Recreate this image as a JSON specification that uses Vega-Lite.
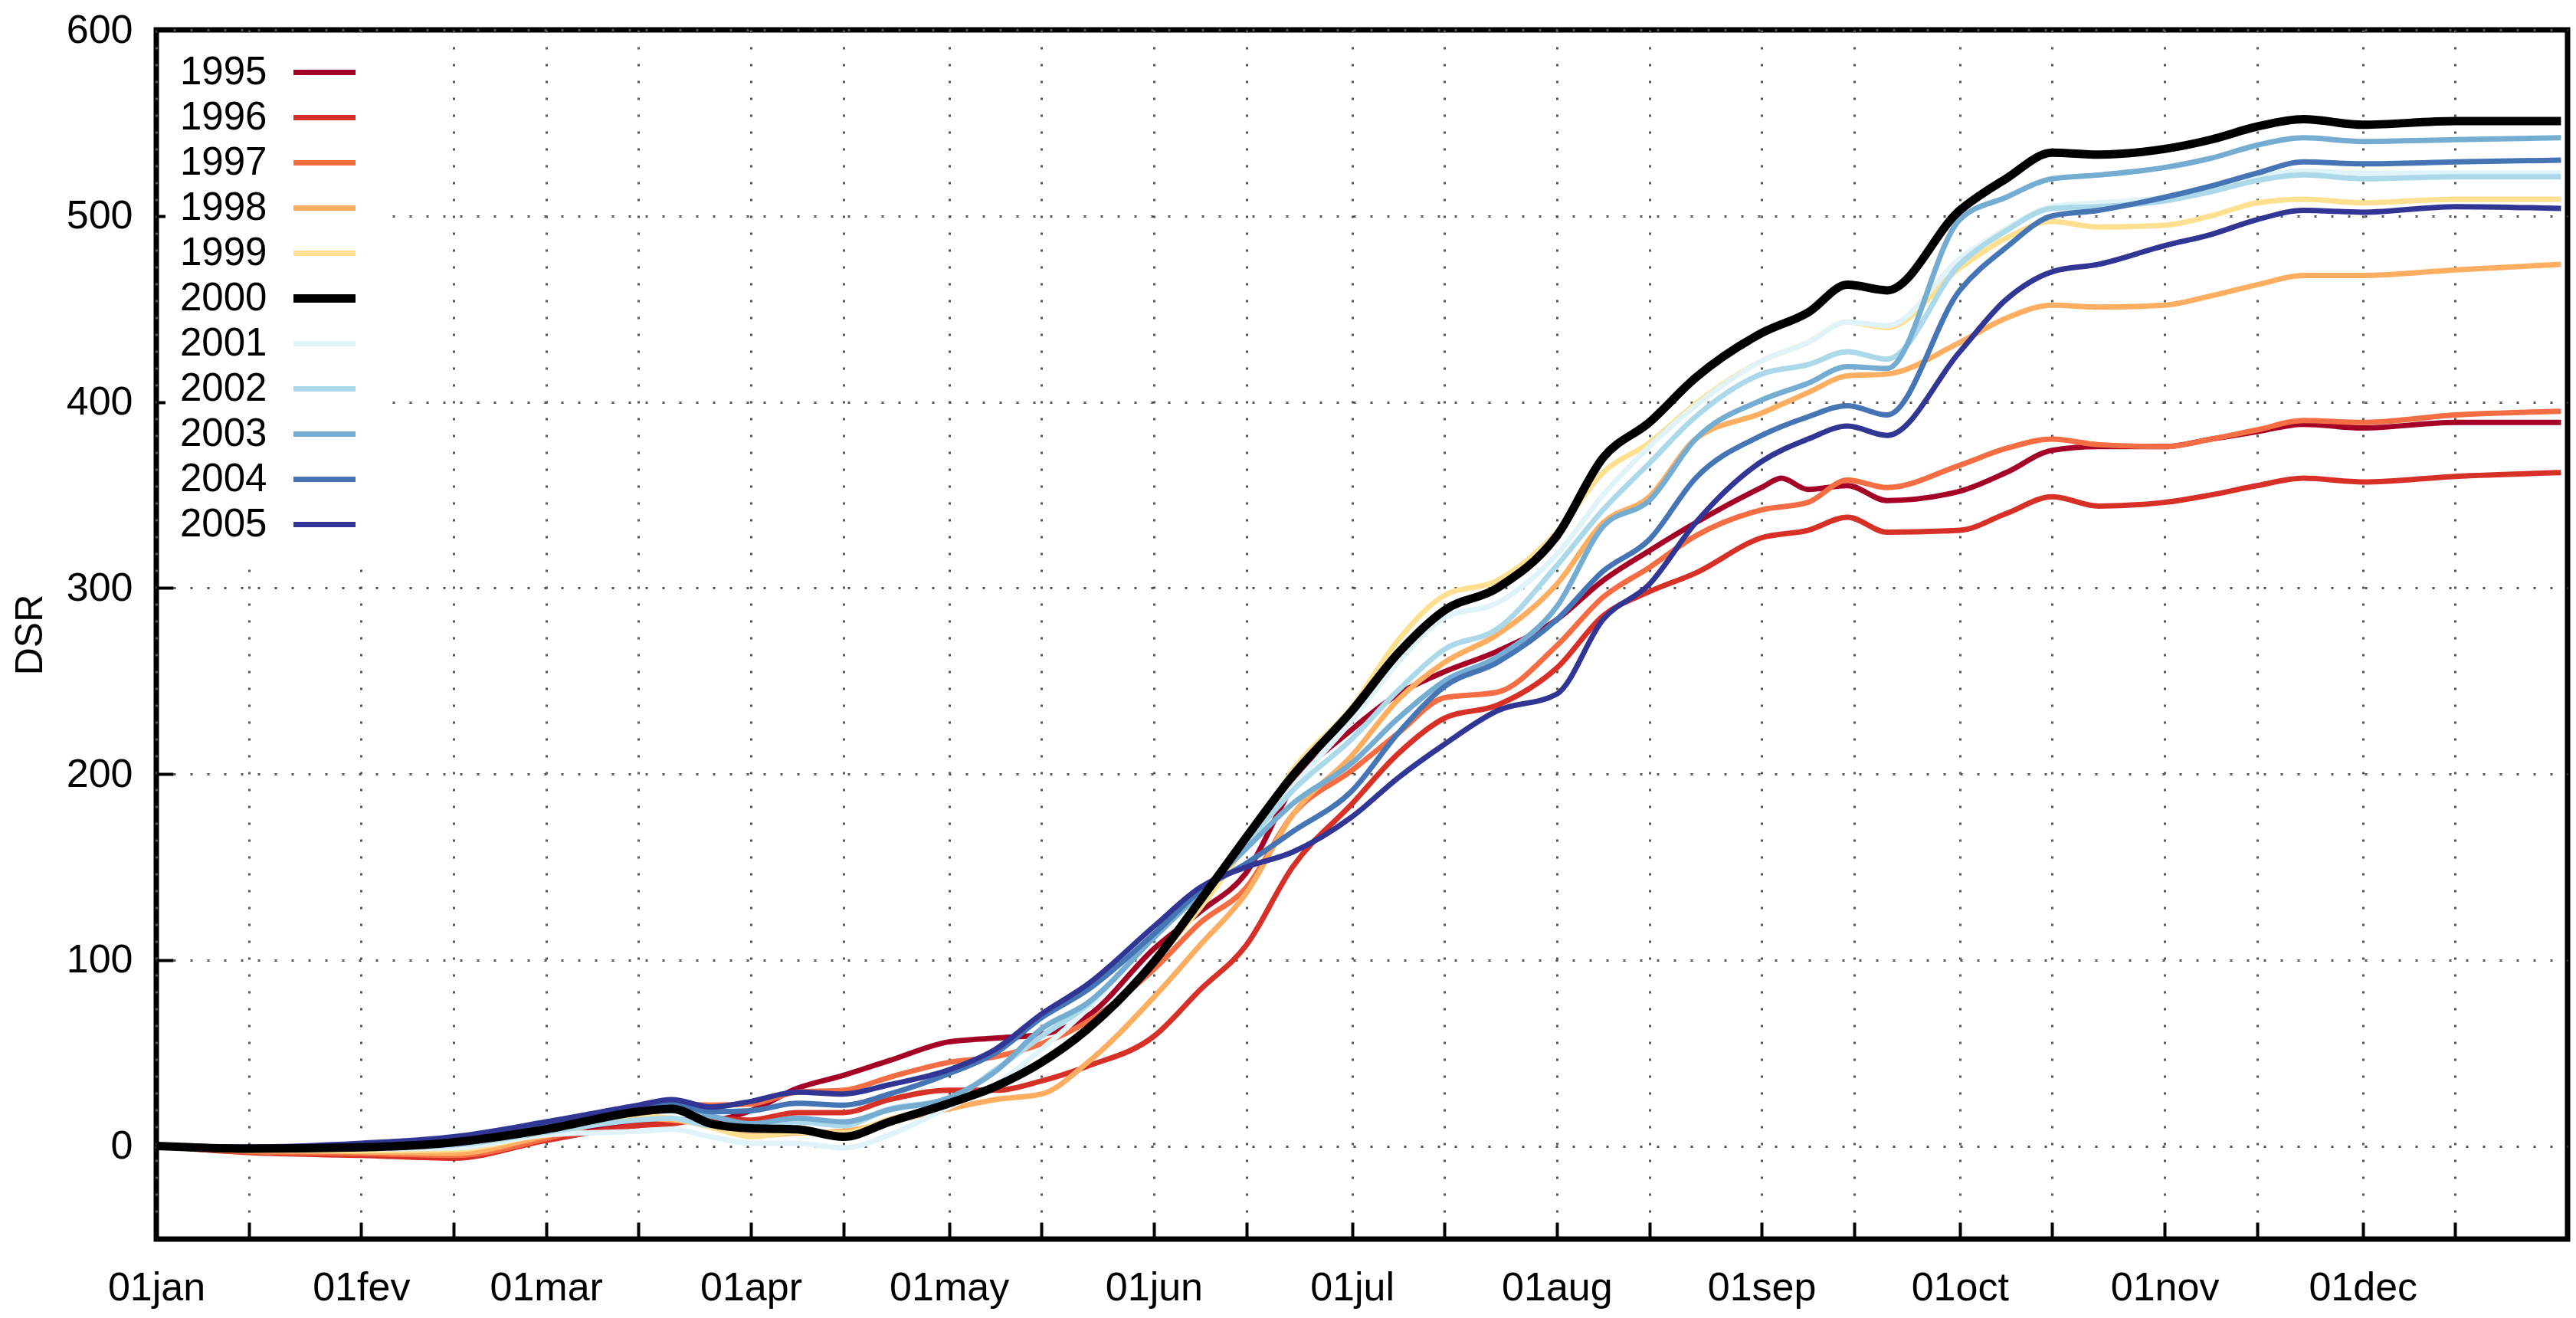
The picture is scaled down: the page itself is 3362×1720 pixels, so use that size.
{
"$schema": "https://vega.github.io/schema/vega-lite/v6.json",
"width": 3147, "height": 1578,
"autosize": {"type": "none"},
"padding": {"left": 204, "top": 39, "right": 11, "bottom": 103},
"background": "white",
"config": {
  "view": {"stroke": "black", "strokeWidth": 7},
  "font": "Liberation Sans",
  "axis": {"domain": false, "grid": true, "gridColor": "#555555", "gridDash": [3, 19], "gridWidth": 3, "tickColor": "black", "tickWidth": 4, "tickSize": -22, "labelFont": "Liberation Sans", "labelFontSize": 52, "labelColor": "black", "titleFont": "Liberation Sans", "titleFontSize": 50, "titleFontWeight": "normal", "titleColor": "black"}
},
"datasets": {
"d": [
{"date":"2001-01-01","year":"1995","dsr":0},{"date":"2001-01-15","year":"1995","dsr":-3},{"date":"2001-02-01","year":"1995","dsr":-4},{"date":"2001-02-15","year":"1995","dsr":-5.5},{"date":"2001-03-01","year":"1995","dsr":4},{"date":"2001-03-15","year":"1995","dsr":13},{"date":"2001-03-20","year":"1995","dsr":14},{"date":"2001-03-26","year":"1995","dsr":14},{"date":"2001-04-01","year":"1995","dsr":19},{"date":"2001-04-08","year":"1995","dsr":31},{"date":"2001-04-15","year":"1995","dsr":38},{"date":"2001-04-22","year":"1995","dsr":46},{"date":"2001-05-01","year":"1995","dsr":56},{"date":"2001-05-08","year":"1995","dsr":58},{"date":"2001-05-15","year":"1995","dsr":60},{"date":"2001-05-22","year":"1995","dsr":70},{"date":"2001-06-01","year":"1995","dsr":106},{"date":"2001-06-08","year":"1995","dsr":126},{"date":"2001-06-15","year":"1995","dsr":147},{"date":"2001-06-22","year":"1995","dsr":193},{"date":"2001-07-01","year":"1995","dsr":224},{"date":"2001-07-08","year":"1995","dsr":243},{"date":"2001-07-15","year":"1995","dsr":255},{"date":"2001-07-23","year":"1995","dsr":266},{"date":"2001-08-01","year":"1995","dsr":283},{"date":"2001-08-08","year":"1995","dsr":304},{"date":"2001-08-15","year":"1995","dsr":320},{"date":"2001-08-22","year":"1995","dsr":335},{"date":"2001-09-01","year":"1995","dsr":354},{"date":"2001-09-04","year":"1995","dsr":359},{"date":"2001-09-08","year":"1995","dsr":353},{"date":"2001-09-14","year":"1995","dsr":355},{"date":"2001-09-20","year":"1995","dsr":347},{"date":"2001-10-01","year":"1995","dsr":352},{"date":"2001-10-08","year":"1995","dsr":362},{"date":"2001-10-15","year":"1995","dsr":374},{"date":"2001-10-22","year":"1995","dsr":376},{"date":"2001-11-01","year":"1995","dsr":376},{"date":"2001-11-08","year":"1995","dsr":380},{"date":"2001-11-15","year":"1995","dsr":384},{"date":"2001-11-22","year":"1995","dsr":388},{"date":"2001-12-01","year":"1995","dsr":386},{"date":"2001-12-15","year":"1995","dsr":389},{"date":"2001-12-31","year":"1995","dsr":389},
{"date":"2001-01-01","year":"1996","dsr":0},{"date":"2001-01-15","year":"1996","dsr":-3.5},{"date":"2001-02-01","year":"1996","dsr":-5},{"date":"2001-02-15","year":"1996","dsr":-6.5},{"date":"2001-03-01","year":"1996","dsr":3},{"date":"2001-03-15","year":"1996","dsr":11},{"date":"2001-03-20","year":"1996","dsr":12},{"date":"2001-03-26","year":"1996","dsr":15},{"date":"2001-04-01","year":"1996","dsr":14},{"date":"2001-04-08","year":"1996","dsr":18},{"date":"2001-04-15","year":"1996","dsr":18},{"date":"2001-04-22","year":"1996","dsr":25},{"date":"2001-05-01","year":"1996","dsr":30},{"date":"2001-05-08","year":"1996","dsr":30},{"date":"2001-05-15","year":"1996","dsr":35},{"date":"2001-05-22","year":"1996","dsr":43},{"date":"2001-06-01","year":"1996","dsr":59},{"date":"2001-06-08","year":"1996","dsr":84},{"date":"2001-06-15","year":"1996","dsr":108},{"date":"2001-06-22","year":"1996","dsr":150},{"date":"2001-07-01","year":"1996","dsr":184},{"date":"2001-07-08","year":"1996","dsr":211},{"date":"2001-07-15","year":"1996","dsr":230},{"date":"2001-07-23","year":"1996","dsr":237},{"date":"2001-08-01","year":"1996","dsr":257},{"date":"2001-08-08","year":"1996","dsr":285},{"date":"2001-08-15","year":"1996","dsr":298},{"date":"2001-08-22","year":"1996","dsr":308},{"date":"2001-09-01","year":"1996","dsr":327},{"date":"2001-09-08","year":"1996","dsr":331},{"date":"2001-09-14","year":"1996","dsr":338},{"date":"2001-09-20","year":"1996","dsr":330},{"date":"2001-10-01","year":"1996","dsr":331},{"date":"2001-10-08","year":"1996","dsr":340},{"date":"2001-10-15","year":"1996","dsr":349},{"date":"2001-10-22","year":"1996","dsr":344},{"date":"2001-11-01","year":"1996","dsr":346},{"date":"2001-11-08","year":"1996","dsr":350},{"date":"2001-11-15","year":"1996","dsr":355},{"date":"2001-11-22","year":"1996","dsr":359},{"date":"2001-12-01","year":"1996","dsr":357},{"date":"2001-12-15","year":"1996","dsr":360},{"date":"2001-12-31","year":"1996","dsr":362},
{"date":"2001-01-01","year":"1997","dsr":0},{"date":"2001-01-15","year":"1997","dsr":-3},{"date":"2001-02-01","year":"1997","dsr":-4},{"date":"2001-02-15","year":"1997","dsr":-5},{"date":"2001-03-01","year":"1997","dsr":4},{"date":"2001-03-15","year":"1997","dsr":19},{"date":"2001-03-20","year":"1997","dsr":22.5},{"date":"2001-03-26","year":"1997","dsr":22},{"date":"2001-04-01","year":"1997","dsr":22.6},{"date":"2001-04-08","year":"1997","dsr":29},{"date":"2001-04-15","year":"1997","dsr":30},{"date":"2001-04-22","year":"1997","dsr":37},{"date":"2001-05-01","year":"1997","dsr":45},{"date":"2001-05-08","year":"1997","dsr":48},{"date":"2001-05-15","year":"1997","dsr":55},{"date":"2001-05-22","year":"1997","dsr":67},{"date":"2001-06-01","year":"1997","dsr":95},{"date":"2001-06-08","year":"1997","dsr":120},{"date":"2001-06-15","year":"1997","dsr":139},{"date":"2001-06-22","year":"1997","dsr":178},{"date":"2001-07-01","year":"1997","dsr":202},{"date":"2001-07-08","year":"1997","dsr":222},{"date":"2001-07-15","year":"1997","dsr":241},{"date":"2001-07-23","year":"1997","dsr":244},{"date":"2001-08-01","year":"1997","dsr":269},{"date":"2001-08-08","year":"1997","dsr":295},{"date":"2001-08-15","year":"1997","dsr":311},{"date":"2001-08-22","year":"1997","dsr":328},{"date":"2001-09-01","year":"1997","dsr":342},{"date":"2001-09-08","year":"1997","dsr":346},{"date":"2001-09-14","year":"1997","dsr":358},{"date":"2001-09-20","year":"1997","dsr":354},{"date":"2001-10-01","year":"1997","dsr":366},{"date":"2001-10-08","year":"1997","dsr":375},{"date":"2001-10-15","year":"1997","dsr":380},{"date":"2001-10-22","year":"1997","dsr":377},{"date":"2001-11-01","year":"1997","dsr":376},{"date":"2001-11-08","year":"1997","dsr":380},{"date":"2001-11-15","year":"1997","dsr":385},{"date":"2001-11-22","year":"1997","dsr":390},{"date":"2001-12-01","year":"1997","dsr":389},{"date":"2001-12-15","year":"1997","dsr":393},{"date":"2001-12-31","year":"1997","dsr":395},
{"date":"2001-01-01","year":"1998","dsr":0},{"date":"2001-01-15","year":"1998","dsr":-2.5},{"date":"2001-02-01","year":"1998","dsr":-3},{"date":"2001-02-15","year":"1998","dsr":-4},{"date":"2001-03-01","year":"1998","dsr":5.5},{"date":"2001-03-15","year":"1998","dsr":15},{"date":"2001-03-20","year":"1998","dsr":14},{"date":"2001-03-26","year":"1998","dsr":11},{"date":"2001-04-01","year":"1998","dsr":5.5},{"date":"2001-04-08","year":"1998","dsr":7},{"date":"2001-04-15","year":"1998","dsr":8},{"date":"2001-04-22","year":"1998","dsr":13},{"date":"2001-05-01","year":"1998","dsr":20},{"date":"2001-05-08","year":"1998","dsr":25},{"date":"2001-05-15","year":"1998","dsr":28},{"date":"2001-05-22","year":"1998","dsr":45},{"date":"2001-06-01","year":"1998","dsr":80},{"date":"2001-06-08","year":"1998","dsr":108},{"date":"2001-06-15","year":"1998","dsr":136},{"date":"2001-06-22","year":"1998","dsr":178},{"date":"2001-07-01","year":"1998","dsr":210},{"date":"2001-07-08","year":"1998","dsr":240},{"date":"2001-07-15","year":"1998","dsr":260},{"date":"2001-07-23","year":"1998","dsr":275},{"date":"2001-08-01","year":"1998","dsr":302},{"date":"2001-08-08","year":"1998","dsr":335},{"date":"2001-08-15","year":"1998","dsr":349},{"date":"2001-08-22","year":"1998","dsr":380},{"date":"2001-09-01","year":"1998","dsr":394},{"date":"2001-09-08","year":"1998","dsr":405},{"date":"2001-09-14","year":"1998","dsr":414},{"date":"2001-09-20","year":"1998","dsr":415},{"date":"2001-10-01","year":"1998","dsr":432},{"date":"2001-10-08","year":"1998","dsr":445},{"date":"2001-10-15","year":"1998","dsr":452},{"date":"2001-10-22","year":"1998","dsr":451},{"date":"2001-11-01","year":"1998","dsr":452},{"date":"2001-11-08","year":"1998","dsr":457},{"date":"2001-11-15","year":"1998","dsr":463},{"date":"2001-11-22","year":"1998","dsr":468},{"date":"2001-12-01","year":"1998","dsr":468},{"date":"2001-12-15","year":"1998","dsr":471},{"date":"2001-12-31","year":"1998","dsr":474},
{"date":"2001-01-01","year":"1999","dsr":0},{"date":"2001-01-15","year":"1999","dsr":-2},{"date":"2001-02-01","year":"1999","dsr":-2.5},{"date":"2001-02-15","year":"1999","dsr":-2},{"date":"2001-03-01","year":"1999","dsr":7},{"date":"2001-03-15","year":"1999","dsr":16},{"date":"2001-03-20","year":"1999","dsr":15},{"date":"2001-03-26","year":"1999","dsr":10},{"date":"2001-04-01","year":"1999","dsr":5},{"date":"2001-04-08","year":"1999","dsr":7.5},{"date":"2001-04-15","year":"1999","dsr":7},{"date":"2001-04-22","year":"1999","dsr":14.5},{"date":"2001-05-01","year":"1999","dsr":23},{"date":"2001-05-08","year":"1999","dsr":32},{"date":"2001-05-15","year":"1999","dsr":45},{"date":"2001-05-22","year":"1999","dsr":62},{"date":"2001-06-01","year":"1999","dsr":99},{"date":"2001-06-08","year":"1999","dsr":128},{"date":"2001-06-15","year":"1999","dsr":162},{"date":"2001-06-22","year":"1999","dsr":202},{"date":"2001-07-01","year":"1999","dsr":236},{"date":"2001-07-08","year":"1999","dsr":272},{"date":"2001-07-15","year":"1999","dsr":296},{"date":"2001-07-23","year":"1999","dsr":304},{"date":"2001-08-01","year":"1999","dsr":330},{"date":"2001-08-08","year":"1999","dsr":362},{"date":"2001-08-15","year":"1999","dsr":378},{"date":"2001-08-22","year":"1999","dsr":399},{"date":"2001-09-01","year":"1999","dsr":422},{"date":"2001-09-08","year":"1999","dsr":432},{"date":"2001-09-14","year":"1999","dsr":443},{"date":"2001-09-20","year":"1999","dsr":440},{"date":"2001-10-01","year":"1999","dsr":472},{"date":"2001-10-08","year":"1999","dsr":488},{"date":"2001-10-15","year":"1999","dsr":497},{"date":"2001-10-22","year":"1999","dsr":494},{"date":"2001-11-01","year":"1999","dsr":495},{"date":"2001-11-08","year":"1999","dsr":500},{"date":"2001-11-15","year":"1999","dsr":507},{"date":"2001-11-22","year":"1999","dsr":509},{"date":"2001-12-01","year":"1999","dsr":507},{"date":"2001-12-15","year":"1999","dsr":509},{"date":"2001-12-31","year":"1999","dsr":509},
{"date":"2001-01-01","year":"2000","dsr":0},{"date":"2001-01-15","year":"2000","dsr":-1.4},{"date":"2001-02-01","year":"2000","dsr":-0.7},{"date":"2001-02-15","year":"2000","dsr":2},{"date":"2001-03-01","year":"2000","dsr":9},{"date":"2001-03-15","year":"2000","dsr":18.5},{"date":"2001-03-20","year":"2000","dsr":20},{"date":"2001-03-26","year":"2000","dsr":12},{"date":"2001-04-01","year":"2000","dsr":9.5},{"date":"2001-04-08","year":"2000","dsr":9},{"date":"2001-04-15","year":"2000","dsr":5},{"date":"2001-04-22","year":"2000","dsr":13},{"date":"2001-05-01","year":"2000","dsr":23},{"date":"2001-05-08","year":"2000","dsr":32},{"date":"2001-05-15","year":"2000","dsr":45},{"date":"2001-05-22","year":"2000","dsr":63},{"date":"2001-06-01","year":"2000","dsr":99},{"date":"2001-06-08","year":"2000","dsr":132},{"date":"2001-06-15","year":"2000","dsr":166},{"date":"2001-06-22","year":"2000","dsr":199},{"date":"2001-07-01","year":"2000","dsr":234},{"date":"2001-07-08","year":"2000","dsr":265},{"date":"2001-07-15","year":"2000","dsr":288},{"date":"2001-07-23","year":"2000","dsr":300},{"date":"2001-08-01","year":"2000","dsr":328},{"date":"2001-08-08","year":"2000","dsr":370},{"date":"2001-08-15","year":"2000","dsr":389},{"date":"2001-08-22","year":"2000","dsr":413},{"date":"2001-09-01","year":"2000","dsr":437},{"date":"2001-09-08","year":"2000","dsr":448},{"date":"2001-09-14","year":"2000","dsr":463},{"date":"2001-09-20","year":"2000","dsr":460},{"date":"2001-10-01","year":"2000","dsr":503},{"date":"2001-10-08","year":"2000","dsr":520},{"date":"2001-10-15","year":"2000","dsr":534},{"date":"2001-10-22","year":"2000","dsr":533},{"date":"2001-11-01","year":"2000","dsr":536},{"date":"2001-11-08","year":"2000","dsr":541},{"date":"2001-11-15","year":"2000","dsr":548},{"date":"2001-11-22","year":"2000","dsr":552},{"date":"2001-12-01","year":"2000","dsr":549},{"date":"2001-12-15","year":"2000","dsr":551},{"date":"2001-12-31","year":"2000","dsr":551},
{"date":"2001-01-01","year":"2001","dsr":0},{"date":"2001-01-15","year":"2001","dsr":-1},{"date":"2001-02-01","year":"2001","dsr":-1.5},{"date":"2001-02-15","year":"2001","dsr":-1},{"date":"2001-03-01","year":"2001","dsr":6},{"date":"2001-03-15","year":"2001","dsr":8},{"date":"2001-03-20","year":"2001","dsr":9},{"date":"2001-03-26","year":"2001","dsr":5},{"date":"2001-04-01","year":"2001","dsr":1.5},{"date":"2001-04-08","year":"2001","dsr":1.5},{"date":"2001-04-15","year":"2001","dsr":-1},{"date":"2001-04-22","year":"2001","dsr":6},{"date":"2001-05-01","year":"2001","dsr":21},{"date":"2001-05-08","year":"2001","dsr":33},{"date":"2001-05-15","year":"2001","dsr":52},{"date":"2001-05-22","year":"2001","dsr":74},{"date":"2001-06-01","year":"2001","dsr":113},{"date":"2001-06-08","year":"2001","dsr":135},{"date":"2001-06-15","year":"2001","dsr":163},{"date":"2001-06-22","year":"2001","dsr":193},{"date":"2001-07-01","year":"2001","dsr":229},{"date":"2001-07-08","year":"2001","dsr":260},{"date":"2001-07-15","year":"2001","dsr":284},{"date":"2001-07-23","year":"2001","dsr":292},{"date":"2001-08-01","year":"2001","dsr":318},{"date":"2001-08-08","year":"2001","dsr":350},{"date":"2001-08-15","year":"2001","dsr":376},{"date":"2001-08-22","year":"2001","dsr":398},{"date":"2001-09-01","year":"2001","dsr":422},{"date":"2001-09-08","year":"2001","dsr":432},{"date":"2001-09-14","year":"2001","dsr":443},{"date":"2001-09-20","year":"2001","dsr":441},{"date":"2001-10-01","year":"2001","dsr":477},{"date":"2001-10-08","year":"2001","dsr":493},{"date":"2001-10-15","year":"2001","dsr":505},{"date":"2001-10-22","year":"2001","dsr":507},{"date":"2001-11-01","year":"2001","dsr":510},{"date":"2001-11-08","year":"2001","dsr":515},{"date":"2001-11-15","year":"2001","dsr":521},{"date":"2001-11-22","year":"2001","dsr":524},{"date":"2001-12-01","year":"2001","dsr":523},{"date":"2001-12-15","year":"2001","dsr":523},{"date":"2001-12-31","year":"2001","dsr":523},
{"date":"2001-01-01","year":"2002","dsr":0},{"date":"2001-01-15","year":"2002","dsr":-1},{"date":"2001-02-01","year":"2002","dsr":-1},{"date":"2001-02-15","year":"2002","dsr":0.5},{"date":"2001-03-01","year":"2002","dsr":7.5},{"date":"2001-03-15","year":"2002","dsr":14},{"date":"2001-03-20","year":"2002","dsr":15},{"date":"2001-03-26","year":"2002","dsr":11},{"date":"2001-04-01","year":"2002","dsr":11},{"date":"2001-04-08","year":"2002","dsr":13},{"date":"2001-04-15","year":"2002","dsr":11},{"date":"2001-04-22","year":"2002","dsr":20},{"date":"2001-05-01","year":"2002","dsr":25},{"date":"2001-05-08","year":"2002","dsr":41},{"date":"2001-05-15","year":"2002","dsr":59},{"date":"2001-05-22","year":"2002","dsr":76},{"date":"2001-06-01","year":"2002","dsr":113},{"date":"2001-06-08","year":"2002","dsr":136},{"date":"2001-06-15","year":"2002","dsr":163},{"date":"2001-06-22","year":"2002","dsr":191},{"date":"2001-07-01","year":"2002","dsr":219},{"date":"2001-07-08","year":"2002","dsr":245},{"date":"2001-07-15","year":"2002","dsr":267},{"date":"2001-07-23","year":"2002","dsr":278},{"date":"2001-08-01","year":"2002","dsr":312},{"date":"2001-08-08","year":"2002","dsr":342},{"date":"2001-08-15","year":"2002","dsr":367},{"date":"2001-08-22","year":"2002","dsr":392},{"date":"2001-09-01","year":"2002","dsr":415},{"date":"2001-09-08","year":"2002","dsr":420},{"date":"2001-09-14","year":"2002","dsr":427},{"date":"2001-09-20","year":"2002","dsr":423},{"date":"2001-10-01","year":"2002","dsr":474},{"date":"2001-10-08","year":"2002","dsr":492},{"date":"2001-10-15","year":"2002","dsr":504},{"date":"2001-10-22","year":"2002","dsr":505},{"date":"2001-11-01","year":"2002","dsr":508},{"date":"2001-11-08","year":"2002","dsr":513},{"date":"2001-11-15","year":"2002","dsr":519},{"date":"2001-11-22","year":"2002","dsr":522},{"date":"2001-12-01","year":"2002","dsr":520},{"date":"2001-12-15","year":"2002","dsr":521},{"date":"2001-12-31","year":"2002","dsr":521},
{"date":"2001-01-01","year":"2003","dsr":0},{"date":"2001-01-15","year":"2003","dsr":-1},{"date":"2001-02-01","year":"2003","dsr":0},{"date":"2001-02-15","year":"2003","dsr":2.5},{"date":"2001-03-01","year":"2003","dsr":10},{"date":"2001-03-15","year":"2003","dsr":18},{"date":"2001-03-20","year":"2003","dsr":19},{"date":"2001-03-26","year":"2003","dsr":16},{"date":"2001-04-01","year":"2003","dsr":12},{"date":"2001-04-08","year":"2003","dsr":15},{"date":"2001-04-15","year":"2003","dsr":13},{"date":"2001-04-22","year":"2003","dsr":19.5},{"date":"2001-05-01","year":"2003","dsr":26},{"date":"2001-05-08","year":"2003","dsr":40},{"date":"2001-05-15","year":"2003","dsr":63},{"date":"2001-05-22","year":"2003","dsr":77},{"date":"2001-06-01","year":"2003","dsr":112},{"date":"2001-06-08","year":"2003","dsr":136},{"date":"2001-06-15","year":"2003","dsr":160},{"date":"2001-06-22","year":"2003","dsr":184},{"date":"2001-07-01","year":"2003","dsr":206},{"date":"2001-07-08","year":"2003","dsr":230},{"date":"2001-07-15","year":"2003","dsr":250},{"date":"2001-07-23","year":"2003","dsr":263},{"date":"2001-08-01","year":"2003","dsr":290},{"date":"2001-08-08","year":"2003","dsr":333},{"date":"2001-08-15","year":"2003","dsr":347},{"date":"2001-08-22","year":"2003","dsr":380},{"date":"2001-09-01","year":"2003","dsr":401},{"date":"2001-09-08","year":"2003","dsr":410},{"date":"2001-09-14","year":"2003","dsr":419},{"date":"2001-09-20","year":"2003","dsr":418},{"date":"2001-10-01","year":"2003","dsr":498},{"date":"2001-10-08","year":"2003","dsr":510},{"date":"2001-10-15","year":"2003","dsr":520},{"date":"2001-10-22","year":"2003","dsr":522},{"date":"2001-11-01","year":"2003","dsr":526},{"date":"2001-11-08","year":"2003","dsr":531},{"date":"2001-11-15","year":"2003","dsr":538},{"date":"2001-11-22","year":"2003","dsr":542},{"date":"2001-12-01","year":"2003","dsr":540},{"date":"2001-12-15","year":"2003","dsr":541},{"date":"2001-12-31","year":"2003","dsr":542},
{"date":"2001-01-01","year":"2004","dsr":0},{"date":"2001-01-15","year":"2004","dsr":-0.7},{"date":"2001-02-01","year":"2004","dsr":1},{"date":"2001-02-15","year":"2004","dsr":4},{"date":"2001-03-01","year":"2004","dsr":11.5},{"date":"2001-03-15","year":"2004","dsr":20.5},{"date":"2001-03-20","year":"2004","dsr":22.5},{"date":"2001-03-26","year":"2004","dsr":18.5},{"date":"2001-04-01","year":"2004","dsr":19},{"date":"2001-04-08","year":"2004","dsr":23},{"date":"2001-04-15","year":"2004","dsr":22},{"date":"2001-04-22","year":"2004","dsr":28},{"date":"2001-05-01","year":"2004","dsr":39},{"date":"2001-05-08","year":"2004","dsr":50},{"date":"2001-05-15","year":"2004","dsr":69},{"date":"2001-05-22","year":"2004","dsr":84},{"date":"2001-06-01","year":"2004","dsr":114},{"date":"2001-06-08","year":"2004","dsr":137},{"date":"2001-06-15","year":"2004","dsr":152},{"date":"2001-06-22","year":"2004","dsr":169},{"date":"2001-07-01","year":"2004","dsr":191},{"date":"2001-07-08","year":"2004","dsr":222},{"date":"2001-07-15","year":"2004","dsr":247},{"date":"2001-07-23","year":"2004","dsr":260},{"date":"2001-08-01","year":"2004","dsr":283},{"date":"2001-08-08","year":"2004","dsr":309},{"date":"2001-08-15","year":"2004","dsr":326},{"date":"2001-08-22","year":"2004","dsr":359},{"date":"2001-09-01","year":"2004","dsr":382},{"date":"2001-09-08","year":"2004","dsr":392},{"date":"2001-09-14","year":"2004","dsr":398},{"date":"2001-09-20","year":"2004","dsr":393},{"date":"2001-10-01","year":"2004","dsr":460},{"date":"2001-10-08","year":"2004","dsr":483},{"date":"2001-10-15","year":"2004","dsr":500},{"date":"2001-10-22","year":"2004","dsr":503},{"date":"2001-11-01","year":"2004","dsr":510},{"date":"2001-11-08","year":"2004","dsr":516},{"date":"2001-11-15","year":"2004","dsr":523},{"date":"2001-11-22","year":"2004","dsr":529},{"date":"2001-12-01","year":"2004","dsr":528},{"date":"2001-12-15","year":"2004","dsr":529},{"date":"2001-12-31","year":"2004","dsr":530},
{"date":"2001-01-01","year":"2005","dsr":0},{"date":"2001-01-15","year":"2005","dsr":-0.5},{"date":"2001-02-01","year":"2005","dsr":1.5},{"date":"2001-02-15","year":"2005","dsr":5},{"date":"2001-03-01","year":"2005","dsr":13},{"date":"2001-03-15","year":"2005","dsr":22},{"date":"2001-03-20","year":"2005","dsr":25},{"date":"2001-03-26","year":"2005","dsr":21},{"date":"2001-04-01","year":"2005","dsr":24},{"date":"2001-04-08","year":"2005","dsr":29},{"date":"2001-04-15","year":"2005","dsr":28},{"date":"2001-04-22","year":"2005","dsr":33},{"date":"2001-05-01","year":"2005","dsr":41},{"date":"2001-05-08","year":"2005","dsr":52},{"date":"2001-05-15","year":"2005","dsr":71},{"date":"2001-05-22","year":"2005","dsr":87},{"date":"2001-06-01","year":"2005","dsr":118},{"date":"2001-06-08","year":"2005","dsr":139},{"date":"2001-06-15","year":"2005","dsr":150},{"date":"2001-06-22","year":"2005","dsr":158},{"date":"2001-07-01","year":"2005","dsr":177},{"date":"2001-07-08","year":"2005","dsr":198},{"date":"2001-07-15","year":"2005","dsr":216},{"date":"2001-07-23","year":"2005","dsr":234},{"date":"2001-08-01","year":"2005","dsr":243},{"date":"2001-08-08","year":"2005","dsr":283},{"date":"2001-08-15","year":"2005","dsr":302},{"date":"2001-08-22","year":"2005","dsr":335},{"date":"2001-09-01","year":"2005","dsr":368},{"date":"2001-09-08","year":"2005","dsr":380},{"date":"2001-09-14","year":"2005","dsr":387},{"date":"2001-09-20","year":"2005","dsr":382},{"date":"2001-10-01","year":"2005","dsr":427},{"date":"2001-10-08","year":"2005","dsr":455},{"date":"2001-10-15","year":"2005","dsr":470},{"date":"2001-10-22","year":"2005","dsr":474},{"date":"2001-11-01","year":"2005","dsr":484},{"date":"2001-11-08","year":"2005","dsr":490},{"date":"2001-11-15","year":"2005","dsr":498},{"date":"2001-11-22","year":"2005","dsr":503},{"date":"2001-12-01","year":"2005","dsr":502},{"date":"2001-12-15","year":"2005","dsr":505},{"date":"2001-12-31","year":"2005","dsr":504}
]
},
"data": {"name": "d"},
"encoding": {
  "x": {"field": "date", "type": "temporal",
    "scale": {"type": "utc", "domain": [{"year": 2001, "month": 1, "date": 1, "utc": true}, {"year": 2002, "month": 1, "date": 1, "utc": true}]},
    "axis": {"title": null, "labelFlush": false, "labelOverlap": false, "labelBound": false, "labelPadding": 60,
      "values": [{"year":2001,"month":1,"date":1,"utc":true},{"year":2001,"month":1,"date":15,"utc":true},{"year":2001,"month":2,"date":1,"utc":true},{"year":2001,"month":2,"date":15,"utc":true},{"year":2001,"month":3,"date":1,"utc":true},{"year":2001,"month":3,"date":15,"utc":true},{"year":2001,"month":4,"date":1,"utc":true},{"year":2001,"month":4,"date":15,"utc":true},{"year":2001,"month":5,"date":1,"utc":true},{"year":2001,"month":5,"date":15,"utc":true},{"year":2001,"month":6,"date":1,"utc":true},{"year":2001,"month":6,"date":15,"utc":true},{"year":2001,"month":7,"date":1,"utc":true},{"year":2001,"month":7,"date":15,"utc":true},{"year":2001,"month":8,"date":1,"utc":true},{"year":2001,"month":8,"date":15,"utc":true},{"year":2001,"month":9,"date":1,"utc":true},{"year":2001,"month":9,"date":15,"utc":true},{"year":2001,"month":10,"date":1,"utc":true},{"year":2001,"month":10,"date":15,"utc":true},{"year":2001,"month":11,"date":1,"utc":true},{"year":2001,"month":11,"date":15,"utc":true},{"year":2001,"month":12,"date":1,"utc":true},{"year":2001,"month":12,"date":15,"utc":true}],
      "labelExpr": "utcdate(datum.value) == 1 ? '01' + ['jan','fev','mar','apr','may','jun','jul','aug','sep','oct','nov','dec'][utcmonth(datum.value)] : ''"}},
  "y": {"field": "dsr", "type": "quantitative",
    "scale": {"domain": [-50, 600], "nice": false, "zero": false},
    "axis": {"title": "DSR", "values": [0, 100, 200, 300, 400, 500, 600], "labelPadding": 53, "titleX": -150, "titleBaseline": "alphabetic"}},
  "color": {"field": "year", "type": "nominal",
    "scale": {"domain": ["1995","1996","1997","1998","1999","2000","2001","2002","2003","2004","2005"],
      "range": ["#a50026","#d73027","#f46d43","#fdae61","#fee090","#000000","#e0f3f8","#abd9e9","#74add1","#4575b4","#313695"]},
    "legend": {"title": null, "orient": "none", "legendX": 12, "legendY": 10, "padding": 20, "fillColor": "white",
      "symbolType": "stroke", "symbolSize": 6561, "symbolStrokeWidth": 7, "symbolOffset": 162,
      "labelAlign": "left", "labelOffset": -214, "labelFont": "Liberation Sans", "labelFontSize": 51, "labelColor": "black", "rowPadding": 7,
      "encode": {"symbols": {"update": {"strokeWidth": {"signal": "datum.value === '2000' ? 11 : 7"}}}}}}
},
"layer": [
  {"transform": [{"filter": "datum.year != '2000'"}], "mark": {"type": "line", "interpolate": "monotone", "strokeWidth": 7}},
  {"transform": [{"filter": "datum.year == '2000'"}], "mark": {"type": "line", "interpolate": "monotone", "strokeWidth": 11}}
]
}
